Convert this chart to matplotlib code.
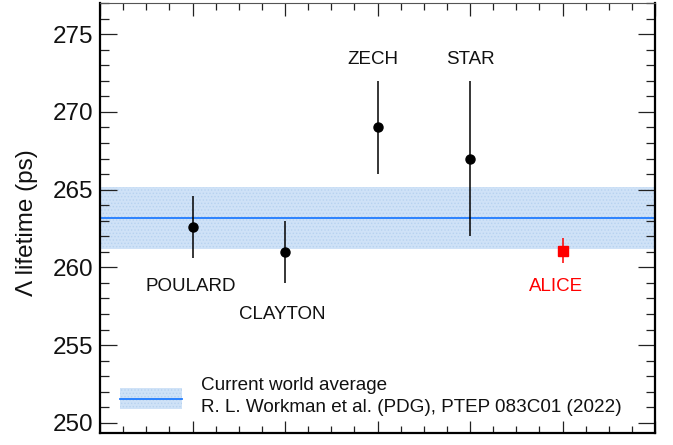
import matplotlib
matplotlib.use("Agg")
import matplotlib.pyplot as plt
from matplotlib.ticker import MultipleLocator, NullFormatter
from matplotlib.patches import Rectangle
from matplotlib.lines import Line2D

plt.rcParams['font.family'] = ['Liberation Sans', 'DejaVu Sans']
plt.rcParams['hatch.linewidth'] = 0.6

# Data
experiments = ["POULARD", "CLAYTON", "ZECH", "STAR"]
exp_x = [1, 2, 3, 4]
exp_tau = [262.6, 261.0, 269.0, 267.0]
exp_err = [2.0, 2.0, 3.0, 5.0]
label_x = [0.98, 1.97, 2.95, 4.0]
label_y = [258.75, 257.0, 273.35, 273.35]

alice_name = "ALICE"
alice_x = 5
alice_tau = 261.07
alice_err = 0.81
alice_label_x = 4.93
alice_label_y = 258.75

wa_value = 263.2
wa_err = 2.0
legend_line1 = "Current world average"
legend_line2 = "R. L. Workman et al. (PDG), PTEP 083C01 (2022)"
ylabel = "\u039b lifetime (ps)"

fig = plt.figure(figsize=(6.73, 4.45), dpi=100)
ax = fig.add_axes([100/673, 12/445, 555/673, 430/445])
ax.set_xlim(0, 6)
ax.set_ylim(249.35, 277.0)

# world average band
band_color = '#cfe2f7'
ax.axhspan(wa_value - wa_err, wa_value + wa_err, facecolor=band_color,
           edgecolor='#b7d2f0', hatch='.....', linewidth=0, zorder=1)
ax.axhline(wa_value, color='#1f7bff', lw=1.3, zorder=2)

# measurements
ax.errorbar(exp_x, exp_tau, yerr=exp_err, fmt='o', color='black', ms=6.5,
            elinewidth=1.1, capsize=0, zorder=4)
for name, x, y in zip(experiments, label_x, label_y):
    ax.text(x, y, name, ha='center', va='center', fontsize=13.5, color='#111111', zorder=5)

ax.errorbar([alice_x], [alice_tau], yerr=[alice_err], fmt='s', color='#ff0000',
            ms=6.5, elinewidth=1.1, capsize=0, zorder=4)
ax.text(alice_label_x, alice_label_y, alice_name, ha='center', va='center',
        fontsize=13.5, color='#ff0000', zorder=5)

# legend drawn manually
lx0, lx1 = 20/555, 82/555
ly0, ly1 = (433-409)/430, (433-388)/430
lyc = (433-399)/430
ax.add_patch(Rectangle((lx0, ly0), lx1-lx0, ly1-ly0, transform=ax.transAxes,
                       facecolor=band_color, edgecolor='#b7d2f0', hatch='.....',
                       linewidth=0, zorder=3))
ax.add_line(Line2D([lx0, lx1], [lyc, lyc], transform=ax.transAxes,
                   color='#1f7bff', lw=1.3, zorder=3))
ax.text(101/555, (433-385)/430, legend_line1, transform=ax.transAxes,
        ha='left', va='center', fontsize=13.6, color='#111111')
ax.text(101/555, (433-408)/430, legend_line2, transform=ax.transAxes,
        ha='left', va='center', fontsize=13.6, color='#111111')

# axes styling
ax.yaxis.set_major_locator(MultipleLocator(5))
ax.yaxis.set_minor_locator(MultipleLocator(1))
ax.xaxis.set_major_locator(MultipleLocator(1))
ax.xaxis.set_minor_locator(MultipleLocator(0.25))
ax.xaxis.set_major_formatter(NullFormatter())
ax.tick_params(axis='y', which='major', direction='in', length=12.5, width=0.9,
               left=True, right=True, labelsize=17.5, color='#222222', pad=5)
ax.tick_params(axis='y', which='minor', direction='in', length=6.5, width=0.9,
               left=True, right=True, color='#222222')
ax.tick_params(axis='x', which='major', direction='in', length=9, width=0.9,
               top=True, bottom=True, color='#222222')
ax.tick_params(axis='x', which='minor', direction='in', length=5, width=0.9,
               top=True, bottom=True, color='#222222')
for s in ['left', 'right', 'bottom']:
    ax.spines[s].set_linewidth(1.6)
ax.spines['top'].set_linewidth(0.8)
ax.spines['top'].set_color('#555555')
for t in ax.get_yticklabels():
    t.set_color('#111111')

ax.set_ylabel(ylabel, fontsize=17.5, color='#111111')
ax.yaxis.set_label_coords(-62/555, 0.49)

fig.savefig("out.png", dpi=100)
